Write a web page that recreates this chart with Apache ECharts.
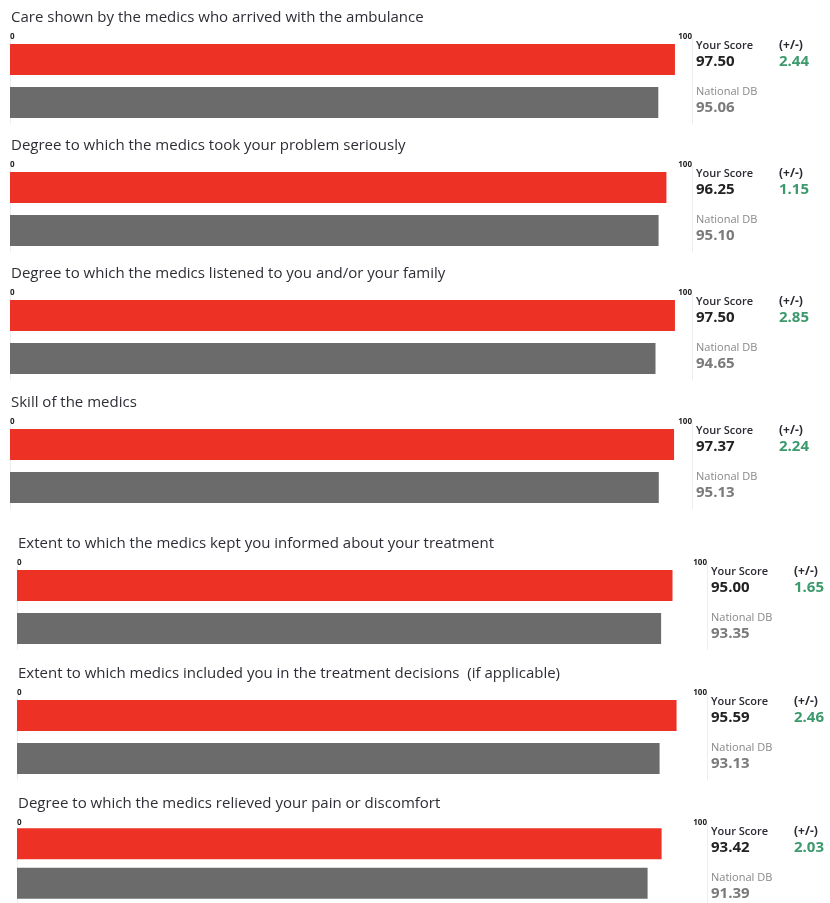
<!DOCTYPE html>
<html>
<head>
<meta charset="utf-8">
<style>
  html, body { margin: 0; padding: 0; background: #ffffff; }
  #chart { width: 830px; height: 903px; }
</style>
<script src="https://cdn.jsdelivr.net/npm/echarts@6/dist/echarts.min.js"></script>
</head>
<body>
<div id="chart"></div>
<script>
// Patient survey: medic care questions, facility score vs national database
const questions = [
  'Care shown by the medics who arrived with the ambulance',
  'Degree to which the medics took your problem seriously',
  'Degree to which the medics listened to you and/or your family',
  'Skill of the medics',
  'Extent to which the medics kept you informed about your treatment',
  'Extent to which medics included you in the treatment decisions  (if applicable)',
  'Degree to which the medics relieved your pain or discomfort'
];
const yourScore = [97.50, 96.25, 97.50, 97.37, 95.00, 95.59, 93.42];
const nationalDB = [95.06, 95.10, 94.65, 95.13, 93.35, 93.13, 91.39];
const rowNames = ['Your Score', 'National DB'];
const diffLabel = '(+/-)';
const axisTicks = [0, 100];

// Panel geometry (two blocks with slightly different offsets)
const panels = [
  { left: 10, width: 682, top: 38 },
  { left: 10, width: 682, top: 166 },
  { left: 10, width: 682, top: 294 },
  { left: 10, width: 682, top: 423 },
  { left: 17, width: 690, top: 564 },
  { left: 17, width: 690, top: 694 },
  { left: 17, width: 690, top: 824 }
];
const GRID_H = 86;
const FONT = '"Open Sans", "DejaVu Sans", sans-serif';
const RED = '#ee3125';
const GREY = '#6b6b6b';

const grid = [], xAxis = [], yAxis = [], series = [], graphic = [];

panels.forEach((p, i) => {
  grid.push({ left: p.left, top: p.top, width: p.width, height: GRID_H });
  xAxis.push({
    gridIndex: i, type: 'value', position: 'top',
    min: axisTicks[0], max: axisTicks[1], interval: axisTicks[1] - axisTicks[0],
    axisLine: { show: false }, axisTick: { show: false },
    splitLine: { show: true, lineStyle: { color: '#ededed', width: 1 } },
    axisLabel: {
      show: true, margin: -3, fontFamily: FONT, fontSize: 8, fontWeight: 'bold',
      color: '#222', alignMinLabel: 'left', alignMaxLabel: 'right',
      formatter: v => (axisTicks.indexOf(v) >= 0 ? String(v) : '')
    }
  });
  yAxis.push({
    gridIndex: i, type: 'category', data: rowNames, inverse: true,
    show: false
  });
  series.push({
    type: 'bar', xAxisIndex: i, yAxisIndex: i, barWidth: 31,
    silent: true,
    data: [
      { value: yourScore[i], itemStyle: { color: RED } },
      { value: nationalDB[i], itemStyle: { color: GREY } }
    ]
  });

  // Question heading
  graphic.push({
    type: 'text', left: p.left + 1, top: p.top - 28,
    style: { text: questions[i], font: '15px ' + FONT, fill: '#2e2e36' }
  });

  // Score block on the right
  const xs = p.left + p.width + 4;
  const xd = xs + 83;
  const redMid = p.top + 21.5;
  const greyMid = p.top + 64.5;
  const diff = (yourScore[i] - nationalDB[i]).toFixed(2);
  const txt = (x, y, s, font, fill) => graphic.push({
    type: 'text', x: x, y: y,
    style: { text: s, font: font, fill: fill, textVerticalAlign: 'middle' }
  });
  txt(xs, redMid - 14, rowNames[0], '600 11px ' + FONT, '#2a2a33');
  txt(xs, redMid + 2, yourScore[i].toFixed(2), 'bold 15px ' + FONT, '#222');
  txt(xd, redMid - 14, diffLabel, 'bold 12px ' + FONT, '#2a2a33');
  txt(xd, redMid + 2, diff, 'bold 15px ' + FONT, '#3c9a6c');
  txt(xs, greyMid - 11, rowNames[1], '11px ' + FONT, '#888');
  txt(xs, greyMid + 5, nationalDB[i].toFixed(2), 'bold 15px ' + FONT, '#7a7a7a');
});

const chart = echarts.init(document.getElementById('chart'), null, { renderer: 'canvas' });
chart.setOption({
  animation: false,
  backgroundColor: '#ffffff',
  grid, xAxis, yAxis, series, graphic
});
</script>
</body>
</html>
